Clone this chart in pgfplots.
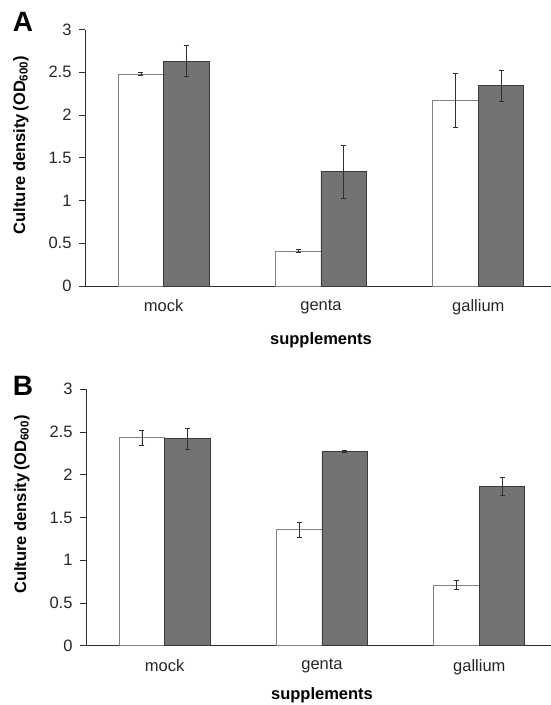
\documentclass[border=0pt]{standalone}
\usepackage{fontspec}
\setmainfont{Liberation Sans}
\usepackage{pgfplots}
\pgfplotsset{compat=1.18}
\definecolor{barg}{HTML}{737373}
\definecolor{bargedge}{HTML}{3A3A3A}
\definecolor{whiteedge}{HTML}{808080}
\definecolor{axc}{HTML}{2E2E2E}
\definecolor{errc}{HTML}{303030}
\pgfplotsset{
  panel/.style={
    scale only axis, width=472pt, height=256.5pt,
    anchor=south west,
    xmin=-0.5, xmax=2.5, ymin=0, ymax=3,
    axis x line*=bottom, axis y line*=left,
    axis line style={axc, line width=0.9pt},
    ytick={0,0.5,1,1.5,2,2.5,3},
    xtick={0,1,2}, xticklabels={mock,genta,gallium},
    minor xtick={-0.5,0.5,1.5,2.5},
    tick align=outside,
    major tick length=6pt, minor tick length=5pt,
    xtick style={draw=none},
    minor tick style={axc, line width=0.9pt},
    ytick style={axc, line width=0.9pt},
    /pgf/number format/assume math mode=true,
    tick label style={font=\fontsize{16.5}{19}\selectfont, text=black!85},
    xticklabel style={yshift=-4pt},
    yticklabel style={xshift=-4pt},
    ybar=0pt, bar width=45.5pt,
    xlabel={supplements},
    xlabel style={at={(axis description cs:0.5,0)}, anchor=center, yshift=-54pt,
      font=\fontsize{16.5}{19}\selectfont\bfseries},
    ylabel={Culture density\,(OD\textsubscript{600})},
    ylabel style={at={(axis description cs:-0.136,0.55)}, anchor=center,
      font=\fontsize{16.5}{19}\selectfont\bfseries},
    clip=false,
  },
  whitebar/.style={fill=white, draw=whiteedge, line width=0.9pt,
    error bars/.cd, y dir=both, y explicit,
    error bar style={errc, line width=0.8pt},
    error mark options={errc, line width=0.8pt, mark size=2.5pt, rotate=90}},
  graybar/.style={fill=barg, draw=bargedge, line width=0.9pt,
    error bars/.cd, y dir=both, y explicit,
    error bar style={errc, line width=0.8pt},
    error mark options={errc, line width=0.8pt, mark size=2.5pt, rotate=90}},
}
\begin{document}
\begin{tikzpicture}[x=1pt,y=1pt]
\useasboundingbox (0,0) rectangle (550,-705);
% Panel A
\begin{axis}[panel, at={(85pt,-286pt)}]
\addplot[whitebar] coordinates {(0,2.48) +- (0,0.02) (1,0.41) +- (0,0.015) (2,2.17) +- (0,0.32)};
\addplot[graybar] coordinates {(0,2.63) +- (0,0.18) (1,1.34) +- (0,0.31) (2,2.34) +- (0,0.18)};
\end{axis}
\node[font=\fontsize{28}{30}\selectfont\bfseries, anchor=center] at (23,-22) {A};
% Panel B
\begin{axis}[panel, at={(86pt,-645.7pt)}, xlabel style={yshift=4pt}]
\addplot[whitebar] coordinates {(0,2.43) +- (0,0.085) (1,1.355) +- (0,0.09) (2,0.71) +- (0,0.05)};
\addplot[graybar] coordinates {(0,2.42) +- (0,0.125) (1,2.27) +- (0,0.01) (2,1.865) +- (0,0.105)};
\end{axis}
\node[font=\fontsize{28}{30}\selectfont\bfseries, anchor=center] at (23,-386) {B};
\end{tikzpicture}
\end{document}
